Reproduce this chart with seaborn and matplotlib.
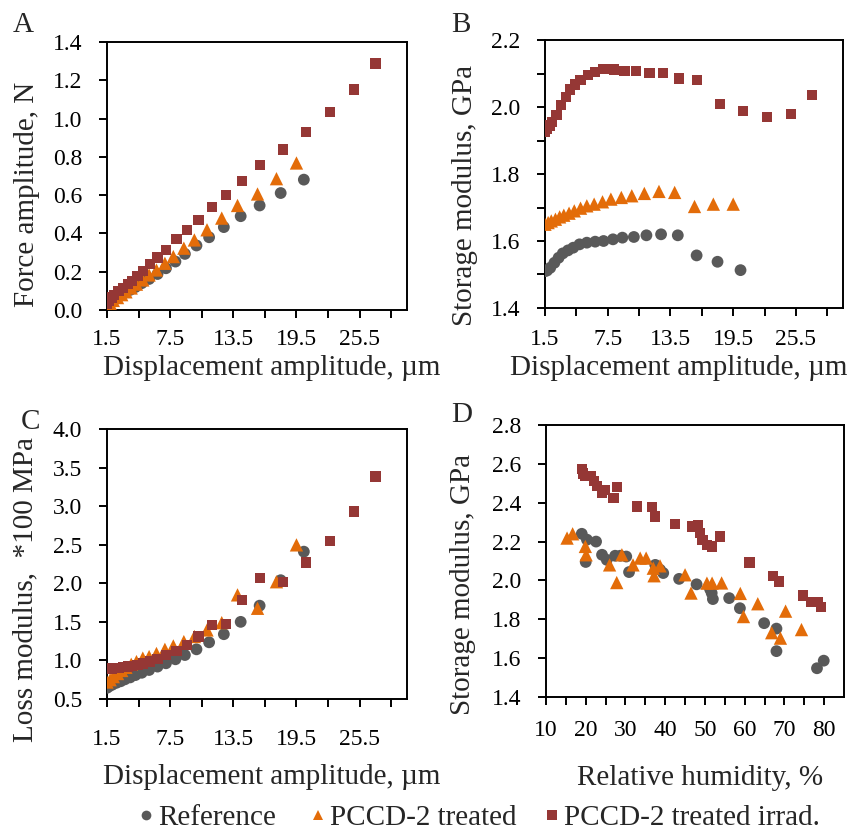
import numpy as np
import pandas as pd
import matplotlib
matplotlib.use("Agg")
import matplotlib.pyplot as plt
import seaborn as sns

sns.set_theme(style="white")
plt.rcParams['font.family'] = ['Liberation Serif', 'DejaVu Serif']

# ---------------- data ----------------
series_names = ["Reference", "PCCD-2 treated", "PCCD-2 treated irrad."]

ref_disp = [1.5, 1.7, 2.0, 2.4, 2.8, 3.2, 3.7, 4.2, 4.8, 5.5, 6.3, 7.1, 8.0, 8.9, 10.0, 11.2, 12.6, 14.2, 16.0, 18.0, 20.2]
ref_force = [0.025, 0.035, 0.045, 0.06, 0.075, 0.09, 0.105, 0.12, 0.14, 0.162, 0.188, 0.218, 0.253, 0.293, 0.337, 0.38, 0.433, 0.49, 0.546, 0.611, 0.681]
ref_storage = [1.51, 1.512, 1.52, 1.535, 1.55, 1.563, 1.572, 1.58, 1.59, 1.595, 1.598, 1.60, 1.605, 1.61, 1.612, 1.617, 1.62, 1.617, 1.557, 1.538, 1.513]
ref_loss = [0.645, 0.665, 0.685, 0.71, 0.73, 0.755, 0.78, 0.81, 0.84, 0.876, 0.92, 0.963, 1.015, 1.07, 1.144, 1.235, 1.34, 1.50, 1.71, 2.04, 2.41]

trt_disp = [1.5, 1.8, 2.1, 2.5, 2.9, 3.3, 3.8, 4.3, 4.9, 5.5, 6.2, 7.0, 7.8, 8.8, 9.8, 11.0, 12.4, 13.9, 15.8, 17.6, 19.5]
trt_force = [0.02, 0.035, 0.05, 0.065, 0.08, 0.095, 0.115, 0.135, 0.157, 0.183, 0.209, 0.244, 0.279, 0.323, 0.366, 0.419, 0.48, 0.546, 0.606, 0.686, 0.768]
trt_storage = [1.65, 1.655, 1.66, 1.665, 1.672, 1.677, 1.683, 1.69, 1.698, 1.705, 1.71, 1.717, 1.725, 1.73, 1.735, 1.742, 1.748, 1.745, 1.703, 1.71, 1.71]
trt_loss = [0.72, 0.75, 0.79, 0.83, 0.87, 0.91, 0.95, 0.985, 1.03, 1.05, 1.09, 1.144, 1.188, 1.244, 1.31, 1.395, 1.49, 1.85, 1.676, 2.02, 2.498]

irr_disp = [1.5, 1.7, 2.0, 2.2, 2.6, 3.0, 3.5, 3.9, 4.4, 4.9, 5.6, 6.3, 7.1, 8.1, 9.1, 10.2, 11.5, 12.8, 14.3, 16.0, 18.2, 20.4, 22.7, 25.0, 27.0]
irr_force = [0.03, 0.047, 0.065, 0.08, 0.098, 0.115, 0.135, 0.152, 0.178, 0.204, 0.239, 0.274, 0.314, 0.370, 0.419, 0.471, 0.536, 0.602, 0.675, 0.756, 0.838, 0.930, 1.035, 1.152, 1.288]
irr_storage = [1.925, 1.935, 1.945, 1.955, 1.975, 2.005, 2.03, 2.052, 2.067, 2.08, 2.095, 2.105, 2.113, 2.112, 2.108, 2.107, 2.102, 2.102, 2.085, 2.08, 2.01, 1.987, 1.97, 1.978, 2.035]
irr_loss = [0.885, 0.89, 0.895, 0.90, 0.905, 0.91, 0.92, 0.93, 0.945, 0.96, 0.985, 1.015, 1.07, 1.127, 1.20, 1.31, 1.46, 1.473, 1.785, 2.07, 2.02, 2.27, 2.55, 2.93, 3.385]

ref_rh = [19.0, 20.0, 20.3, 22.6, 24.1, 25.3, 27.4, 28.7, 30.2, 30.9, 37.5, 38.7, 39.5, 43.5, 47.9, 51.3, 51.7, 52.0, 56.1, 58.8, 64.9, 68.0, 68.0, 78.2, 79.9]
ref_rh_storage = [2.24, 2.095, 2.21, 2.20, 2.132, 2.106, 2.127, 2.127, 2.123, 2.043, 2.08, 2.055, 2.038, 2.008, 1.98, 1.955, 1.935, 1.904, 1.909, 1.857, 1.78, 1.752, 1.636, 1.548, 1.587]

trt_rh = [15.3, 16.7, 19.9, 20.1, 26.0, 27.8, 29.1, 31.9, 33.7, 35.2, 37.0, 37.2, 38.7, 45.0, 46.5, 50.5, 51.8, 54.2, 58.9, 59.7, 63.3, 66.8, 69.0, 70.3, 74.3]
trt_rh_storage = [2.218, 2.24, 2.175, 2.132, 2.08, 1.989, 2.132, 2.08, 2.115, 2.115, 2.063, 2.024, 2.075, 2.029, 1.935, 1.986, 1.986, 1.987, 1.933, 1.814, 1.88, 1.731, 1.703, 1.842, 1.747]

irr_rh = [19.0, 19.4, 19.9, 21.3, 22.0, 22.8, 24.1, 24.9, 27.0, 27.8, 32.9, 36.6, 37.5, 42.5, 46.8, 48.2, 48.8, 49.4, 50.6, 51.7, 53.8, 61.2, 67.2, 68.7, 74.7, 76.8, 78.5, 79.2]
irr_rh_storage = [2.575, 2.550, 2.536, 2.536, 2.51, 2.484, 2.45, 2.467, 2.424, 2.481, 2.381, 2.378, 2.329, 2.292, 2.278, 2.287, 2.244, 2.209, 2.182, 2.175, 2.226, 2.092, 2.024, 1.994, 1.922, 1.891, 1.891, 1.862]

disp_ticks = [1.5, 4.5, 7.5, 10.5, 13.5, 16.5, 19.5, 22.5, 25.5, 28.5]
rh_ticks = [10, 15, 20, 25, 30, 35, 40, 45, 50, 55, 60, 65, 70, 75, 80]

# ---------------- style ----------------
COLORS = ["#595959", "#E36C09", "#953735"]
MARKERS = ["o", "^", "s"]
SIZES = [72, 92, 54]

W, H = 855, 831
fig = plt.figure(figsize=(W / 100, H / 100), dpi=100)

def rect(l, t, r, b):
    return [l / W, 1 - b / H, (r - l) / W, (b - t) / H]

def fp(x, y):
    return (x / W, 1 - y / H)

axA = fig.add_axes(rect(107, 42, 407, 310))
axB = fig.add_axes(rect(545, 40, 843, 308))
axC = fig.add_axes(rect(107, 429, 407, 699))
axD = fig.add_axes(rect(546, 425, 844, 697))

def draw(ax, xs, ys):
    for i in range(3):
        df = pd.DataFrame({"x": xs[i], "y": ys[i]})
        sns.scatterplot(data=df, x="x", y="y", ax=ax, marker=MARKERS[i], color=COLORS[i],
                        s=SIZES[i], linewidth=0, edgecolor="none", legend=False, zorder=3 + i)
    ax.set_xlabel("")
    ax.set_ylabel("")

draw(axA, [ref_disp, trt_disp, irr_disp], [ref_force, trt_force, irr_force])
draw(axB, [ref_disp, trt_disp, irr_disp], [ref_storage, trt_storage, irr_storage])
draw(axC, [ref_disp, trt_disp, irr_disp], [ref_loss, trt_loss, irr_loss])
draw(axD, [ref_rh, trt_rh, irr_rh], [ref_rh_storage, trt_rh_storage, irr_rh_storage])

TICK_FS = 17
LABEL_FS = 21

def style(ax, xpad, ypad=12):
    for s in ax.spines.values():
        s.set_visible(True)
        s.set_color("black")
        s.set_linewidth(1.4)
    ax.tick_params(axis="both", direction="out", length=6, width=1.4, color="black",
                   labelsize=TICK_FS, labelcolor="black", left=True, bottom=True)
    ax.tick_params(axis="x", pad=xpad)
    ax.tick_params(axis="y", pad=ypad)
    ax.grid(False)
    ax.set_facecolor("white")

def disp_axis(ax):
    ax.set_xlim(1.5, 30)
    ax.set_xticks(disp_ticks)
    ax.set_xticklabels([f"{t:.1f}" if i % 2 == 0 else "" for i, t in enumerate(disp_ticks)])

# A
disp_axis(axA)
axA.set_ylim(0, 1.4)
a_ticks = np.round(np.arange(0, 1.41, 0.2), 1)
axA.set_yticks(a_ticks)
axA.set_yticklabels([f"{t:.1f}" for t in a_ticks])
style(axA, xpad=8)

# B
disp_axis(axB)
axB.set_ylim(1.4, 2.2)
b_ticks = np.round(np.arange(1.4, 2.21, 0.1), 1)
axB.set_yticks(b_ticks)
axB.set_yticklabels([f"{t:.1f}" if i % 2 == 0 else "" for i, t in enumerate(b_ticks)])
style(axB, xpad=9)

# C
disp_axis(axC)
axC.set_ylim(0.5, 4.0)
c_ticks = np.round(np.arange(0.5, 4.01, 0.5), 1)
axC.set_yticks(c_ticks)
axC.set_yticklabels([f"{t:.1f}" for t in c_ticks])
style(axC, xpad=15.5)

# D
axD.set_xlim(10, 85)
axD.set_xticks(rh_ticks)
axD.set_xticklabels([str(t) if i % 2 == 0 else "" for i, t in enumerate(rh_ticks)])
axD.set_ylim(1.4, 2.8)
d_ticks = np.round(np.arange(1.4, 2.81, 0.2), 1)
axD.set_yticks(d_ticks)
axD.set_yticklabels([f"{t:.1f}" for t in d_ticks])
style(axD, xpad=10.5)

# axis labels
fig.text(*fp(27, 194), "Force amplitude, N", rotation=90, ha="center", va="center", fontsize=LABEL_FS)
fig.text(*fp(465, 195), "Storage modulus, GPa", rotation=90, ha="center", va="center", fontsize=LABEL_FS)
fig.text(*fp(25, 590), "Loss modulus,  *100 MPa", rotation=90, ha="center", va="center", fontsize=LABEL_FS)
fig.text(*fp(463, 584), "Storage modulus, GPa", rotation=90, ha="center", va="center", fontsize=LABEL_FS)

fig.text(*fp(272, 368), "Displacement amplitude, \u00b5m", ha="center", va="center", fontsize=LABEL_FS)
fig.text(*fp(679, 368), "Displacement amplitude, \u00b5m", ha="center", va="center", fontsize=LABEL_FS)
fig.text(*fp(272, 777), "Displacement amplitude, \u00b5m", ha="center", va="center", fontsize=LABEL_FS)
fig.text(*fp(700, 778), "Relative humidity, %", ha="center", va="center", fontsize=LABEL_FS)

# panel letters
fig.text(*fp(23, 25), "A", ha="center", va="center", fontsize=LABEL_FS)
fig.text(*fp(461, 25), "B", ha="center", va="center", fontsize=LABEL_FS)
fig.text(*fp(30, 422), "C", ha="center", va="center", fontsize=LABEL_FS)
fig.text(*fp(462, 415), "D", ha="center", va="center", fontsize=LABEL_FS)

# legend (one entry per series, placed at the reference positions)
legend_left_px = [139, 311, 545]
for i in range(3):
    h = plt.Line2D([], [], linestyle="none", marker=MARKERS[i], color=COLORS[i],
                   markersize=7, markeredgewidth=0)
    fig.legend([h], [series_names[i]], loc="center left", bbox_to_anchor=fp(legend_left_px[i], 818),
               frameon=False, fontsize=LABEL_FS, handlelength=0.5, handletextpad=0.15,
               borderpad=0, borderaxespad=0)

fig.savefig("out.png", dpi=100, facecolor="white")
